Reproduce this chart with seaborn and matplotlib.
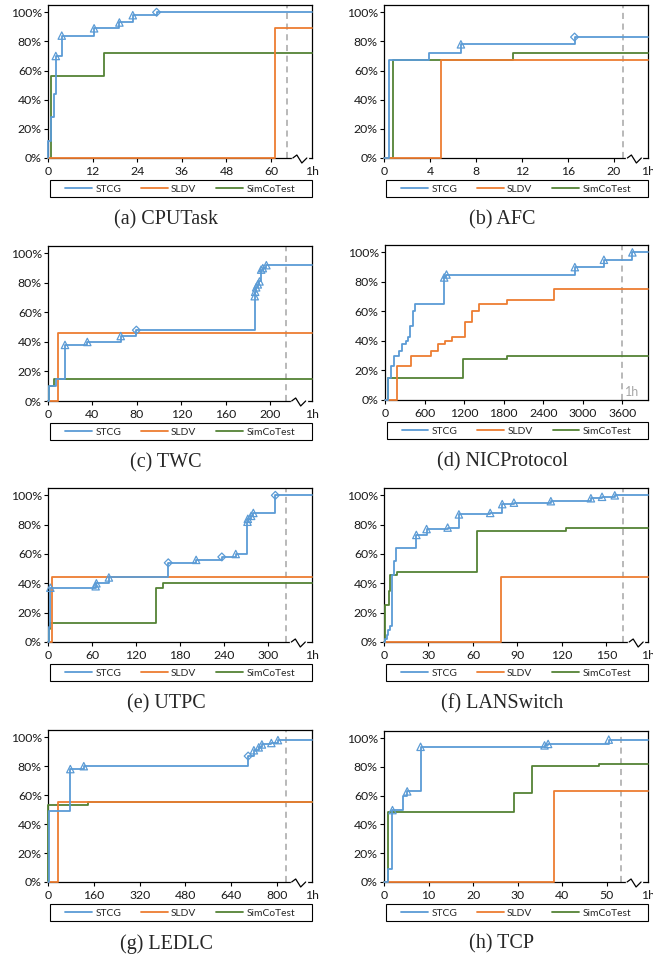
import numpy as np
import pandas as pd
import seaborn as sns
import matplotlib.pyplot as plt
from matplotlib.patches import Rectangle

sns.set_style("ticks")
plt.rcParams["font.family"] = ["Lato", "DejaVu Sans"]

TOOLS = ["STCG", "SLDV", "SimCoTest"]
COLORS = ["#5B9BD5", "#ED7D31", "#548235"]

# ---------------- data (time, coverage %) ----------------
# (a) CPUTask
cpu_stcg_t = [0, 0.1, 0.9, 1.5, 2.1, 3.7, 12.4, 19.2, 22.8, 29.2]
cpu_stcg_y = [0, 12, 28, 44, 70, 84, 89, 93, 98, 100]
cpu_stcg_tri = [2.1, 3.7, 12.4, 19.2, 22.8]
cpu_stcg_dia = [29.2]
cpu_sldv_t = [0, 61.0]
cpu_sldv_y = [0, 89]
cpu_sim_t = [0, 0.9, 15.1]
cpu_sim_y = [0, 56, 72]
cpu_ticks = [0, 12, 24, 36, 48, 60]

# (b) AFC
afc_stcg_t = [0, 0.44, 3.95, 6.7, 16.6]
afc_stcg_y = [0, 67, 72, 78, 83]
afc_stcg_tri = [6.7]
afc_stcg_dia = [16.6]
afc_sldv_t = [0, 5.0]
afc_sldv_y = [0, 67]
afc_sim_t = [0, 0.81, 11.2]
afc_sim_y = [0, 67, 72]
afc_ticks = [0, 4, 8, 12, 16, 20]

# (c) TWC
twc_stcg_t = [0, 0.8, 6.9, 15.3, 35.4, 65.5, 79.6, 186.2, 186.6, 187.5, 189, 190.5, 192, 193.5, 196.7]
twc_stcg_y = [0, 10, 15, 38, 40, 44, 48, 71, 74, 77, 79, 81, 89, 90, 92]
twc_stcg_tri = [15.3, 35.4, 65.5, 186.2, 186.6, 187.5, 189, 190.5, 192, 193.5, 196.7]
twc_stcg_dia = [79.6]
twc_sldv_t = [0, 9.3]
twc_sldv_y = [0, 46]
twc_sim_t = [0, 0.6, 5.1]
twc_sim_y = [0, 10, 15]
twc_ticks = [0, 40, 80, 120, 160, 200]

# (d) NICProtocol
nic_stcg_t = [0, 51, 86, 137, 213, 264, 314, 345, 380, 426, 456, 898, 933, 2880, 3321, 3753]
nic_stcg_y = [0, 15, 23, 30, 33, 38, 40, 43, 50, 60, 65, 83, 85, 90, 95, 100]
nic_stcg_tri = [898, 933, 2880, 3321, 3753]
nic_stcg_dia = []
nic_sldv_t = [0, 177, 395, 700, 806, 903, 1024, 1207, 1313, 1420, 1846, 2561]
nic_sldv_y = [0, 23, 30, 33, 38, 40, 43, 53, 60, 65, 68, 75]
nic_sim_t = [0, 46, 1181, 1851]
nic_sim_y = [0, 15, 28, 30]
nic_ticks = [0, 600, 1200, 1800, 2400, 3000, 3600]

# (e) UTPC
utpc_stcg_t = [0, 1.4, 3.2, 65, 66, 83, 164, 202, 237, 256, 272, 272.5, 277, 280, 310]
utpc_stcg_y = [0, 10, 37, 38, 40, 44, 54, 56, 58, 60, 82, 84, 86, 88, 100]
utpc_stcg_tri = [3.2, 65, 66, 83, 202, 256, 272, 272.5, 277, 280]
utpc_stcg_dia = [164, 237, 310]
utpc_sldv_t = [0, 5.9]
utpc_sldv_y = [0, 44]
utpc_sim_t = [0, 1.0, 2.3, 147.5, 156.6]
utpc_sim_y = [0, 9, 13, 37, 40]
utpc_ticks = [0, 60, 120, 180, 240, 300]

# (f) LANSwitch
lan_stcg_t = [0, 0.7, 1.8, 2.9, 4.0, 5.2, 5.6, 6.7, 7.9, 21.8, 28.7, 42.9, 50.5, 71.6, 79.7, 87.6, 112.5, 139.5, 147, 155.6]
lan_stcg_y = [0, 2, 5, 8, 11, 23, 46, 55, 64, 73, 77, 78, 87, 88, 94, 95, 96, 98, 99, 100]
lan_stcg_tri = [21.8, 28.7, 42.9, 50.5, 71.6, 79.7, 87.6, 112.5, 139.5, 147, 155.6]
lan_stcg_dia = []
lan_sldv_t = [0, 79]
lan_sldv_y = [0, 44]
lan_sim_t = [0, 0.7, 3.4, 4.0, 9.0, 62.4, 122.8]
lan_sim_y = [0, 25, 35, 46, 48, 76, 78]
lan_ticks = [0, 30, 60, 90, 120, 150]

# (g) LEDLC
led_stcg_t = [0, 2, 78, 125, 699, 719, 736, 747, 780, 803]
led_stcg_y = [0, 49, 78, 80, 87, 91, 93, 95, 96, 98]
led_stcg_tri = [78, 125, 719, 736, 747, 780, 803]
led_stcg_dia = [699]
led_sldv_t = [0, 35]
led_sldv_y = [0, 55]
led_sim_t = [0, 1, 140]
led_sim_y = [0, 53, 55]
led_ticks = [0, 160, 320, 480, 640, 800]

# (h) TCP
tcp_stcg_t = [0, 1.0, 1.9, 4.3, 5.2, 8.2, 36.0, 36.8, 50.4]
tcp_stcg_y = [0, 9, 50, 60, 63, 94, 95, 96, 99]
tcp_stcg_tri = [1.9, 5.2, 8.2, 36.0, 36.8, 50.4]
tcp_stcg_dia = []
tcp_sldv_t = [0, 38.1]
tcp_sldv_y = [0, 63]
tcp_sim_t = [0, 1.0, 29.1, 33.1, 48.1]
tcp_sim_y = [0, 49, 62, 81, 82]
tcp_ticks = [0, 10, 20, 30, 40, 50]

captions = ["(a) CPUTask", "(b) AFC", "(c) TWC", "(d) NICProtocol",
            "(e) UTPC", "(f) LANSwitch", "(g) LEDLC", "(h) TCP"]

series = [
    [(cpu_stcg_t, cpu_stcg_y), (cpu_sldv_t, cpu_sldv_y), (cpu_sim_t, cpu_sim_y), cpu_stcg_tri, cpu_stcg_dia, cpu_ticks],
    [(afc_stcg_t, afc_stcg_y), (afc_sldv_t, afc_sldv_y), (afc_sim_t, afc_sim_y), afc_stcg_tri, afc_stcg_dia, afc_ticks],
    [(twc_stcg_t, twc_stcg_y), (twc_sldv_t, twc_sldv_y), (twc_sim_t, twc_sim_y), twc_stcg_tri, twc_stcg_dia, twc_ticks],
    [(nic_stcg_t, nic_stcg_y), (nic_sldv_t, nic_sldv_y), (nic_sim_t, nic_sim_y), nic_stcg_tri, nic_stcg_dia, nic_ticks],
    [(utpc_stcg_t, utpc_stcg_y), (utpc_sldv_t, utpc_sldv_y), (utpc_sim_t, utpc_sim_y), utpc_stcg_tri, utpc_stcg_dia, utpc_ticks],
    [(lan_stcg_t, lan_stcg_y), (lan_sldv_t, lan_sldv_y), (lan_sim_t, lan_sim_y), lan_stcg_tri, lan_stcg_dia, lan_ticks],
    [(led_stcg_t, led_stcg_y), (led_sldv_t, led_sldv_y), (led_sim_t, led_sim_y), led_stcg_tri, led_stcg_dia, led_ticks],
    [(tcp_stcg_t, tcp_stcg_y), (tcp_sldv_t, tcp_sldv_y), (tcp_sim_t, tcp_sim_y), tcp_stcg_tri, tcp_stcg_dia, tcp_ticks],
]

# ---------------- layout (pixels) ----------------
W, H = 653, 958
# left, top, right, bottom of each axes
rects = [(48, 5, 312, 158), (384, 5, 648, 158),
         (48, 246, 312, 401), (385, 245, 648, 400),
         (48, 488, 312, 642), (384, 488, 648, 642),
         (48, 730, 312, 882), (384, 731, 648, 882)]
# x-axis end, dashed line, axis break (None = no break)
xends = [71, 23.0, 237.8, 3990, 360, 178, 922, 59.2]
dashes = [64.3, 20.8, 214.6, 3600, 324.6, 161, 832, 53.2]
breaks = [68, 21.9, 226.7, None, 342.7, 170.7, 879, 56.3]


def step_value(t, y, when):
    idx = np.searchsorted(t, when, side="right") - 1
    return np.asarray(y)[idx]


fig = plt.figure(figsize=(W / 100, H / 100), dpi=100)

for i, (rect, ser) in enumerate(zip(rects, series)):
    L, T, R, B = rect
    wpx, hpx = R - L, B - T
    ax = fig.add_axes([L / W, 1 - B / H, wpx / W, hpx / H])
    xend = xends[i]

    ax.axvline(dashes[i], color="#A6A6A6", ls=(0, (4, 3)), lw=1.1, zorder=1.5)

    # STCG last so it sits on top
    for k in [2, 1, 0]:
        t, y = ser[k]
        df = pd.DataFrame({"t": list(t) + [xend], "cov": list(y) + [y[-1]]})
        sns.lineplot(data=df, x="t", y="cov", ax=ax, color=COLORS[k], lw=1.3,
                     drawstyle="steps-post", estimator=None, sort=False,
                     label=TOOLS[k], zorder=3 + (2 - k) * 0.1, clip_on=False)

    st, sy = ser[0]
    for mk, pts in [("^", ser[3]), ("D", ser[4])]:
        if len(pts) == 0:
            continue
        sns.scatterplot(x=pts, y=step_value(st, sy, pts), ax=ax, marker=mk,
                        s=28 if mk == "^" else 16, facecolor="none",
                        edgecolor=COLORS[0], linewidth=0.9, zorder=4,
                        clip_on=False, legend=False)

    ax.set_xlim(0, xend)
    ax.set_ylim(0, 105)
    ticks = list(ser[5])
    labels = [str(v) for v in ticks]
    if breaks[i] is not None:
        ticks.append(xend)
        labels.append("1h")
    ax.set_xticks(ticks)
    ax.set_xticklabels(labels)
    if breaks[i] is not None:
        ax.xaxis.get_major_ticks()[-1].tick1line.set_visible(False)
    ax.set_yticks(range(0, 101, 20))
    ax.set_yticklabels([f"{v}%" for v in range(0, 101, 20)])
    ax.set_xlabel("")
    ax.set_ylabel("")
    ax.tick_params(axis="both", length=3, width=0.8, color="black",
                   labelsize=8.8, labelcolor="#1a1a1a")
    ax.tick_params(axis="x", pad=2.5)
    ax.tick_params(axis="y", pad=1.5)
    for sp in ax.spines.values():
        sp.set_color("black")
        sp.set_linewidth(0.9)

    # axis break zigzag
    if breaks[i] is not None:
        xb = breaks[i] / xend
        px, py = 1 / wpx, 1 / hpx
        ax.plot([xb - 8 * px, xb + 6 * px], [0, 0], color="white", lw=2.5,
                transform=ax.transAxes, clip_on=False, zorder=5)
        ax.plot([xb - 8 * px, xb - 4 * px, xb + 1 * px, xb + 6 * px],
                [0, 3 * py, -5 * py, 0], color="black", lw=0.9,
                transform=ax.transAxes, clip_on=False, zorder=6)
    else:
        ax.text(dashes[i] + 40, 1.5, "1h", color="#A6A6A6", fontsize=9,
                ha="left", va="bottom")

    # legend with a box across the axes width
    handles, labs = ax.get_legend_handles_labels()
    order = [labs.index(n) for n in TOOLS]
    ax.legend([handles[j] for j in order], TOOLS, loc="center",
              bbox_to_anchor=(0.5, -31 / hpx), ncol=3, frameon=False,
              fontsize=7.4, handlelength=2.6, handletextpad=0.35,
              columnspacing=1.9, borderaxespad=0)
    ax.add_patch(Rectangle((2 / wpx, -39 / hpx), 1 - 2 / wpx, 17 / hpx,
                           transform=ax.transAxes, fill=False, ec="black",
                           lw=0.8, clip_on=False))

    cx = (L + R) / 2 - 14
    cy = B + 62
    fig.text(cx / W, 1 - cy / H, captions[i], family="Liberation Serif",
             fontsize=14.5, ha="center", va="center")

fig.savefig("out.png", dpi=100)
